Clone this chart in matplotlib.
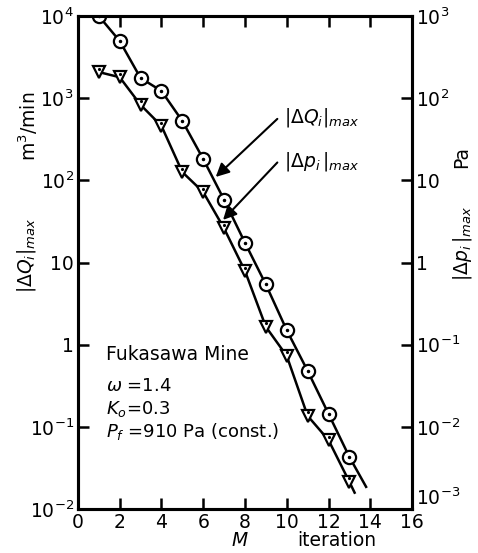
import numpy as np
import matplotlib.pyplot as plt

# iteration number M
m_q = [1, 2, 3, 4, 5, 6, 7, 8, 9, 10, 11, 12, 13]
dq = [10000, 4970, 1760, 1225, 528, 182, 58, 17.4, 5.4, 1.5, 0.48, 0.144, 0.043]
m_p = [1, 2, 3, 4, 5, 6, 7, 8, 9, 10, 11, 12, 13]
dp = [208, 180, 83, 46, 12.6, 7.2, 2.6, 0.79, 0.165, 0.073, 0.0136, 0.0069, 0.00214]
# the lines run on a bit past the last point
q_tail = (13.8, 0.0186)
p_tail = (13.25, 0.00158)

xticks = [0, 2, 4, 6, 8, 10, 12, 14, 16]
left_ticks = [1e4, 1e3, 1e2, 10, 1, 1e-1, 1e-2]
left_labels = [r'$10^4$', r'$10^3$', r'$10^2$', '10', '1', r'$10^{-1}$', r'$10^{-2}$']
right_ticks = [1e3, 1e2, 10, 1, 1e-1, 1e-2, 1e-3]
right_labels = [r'$10^3$', r'$10^2$', '10', '1', r'$10^{-1}$', r'$10^{-2}$', r'$10^{-3}$']

plt.rcParams['font.family'] = 'DejaVu Sans'
plt.rcParams['mathtext.fontset'] = 'dejavusans'

fig = plt.figure(figsize=(4.78, 5.53), dpi=100)
ax = fig.add_axes([0.163, 0.0796, 0.699, 0.8914])
ax2 = ax.twinx()

fs = 13.5
for a in (ax, ax2):
    a.set_yscale('log')
    for s in a.spines.values():
        s.set_linewidth(2.2)
    a.minorticks_off()

ax.set_xlim(0, 16)
ax.set_ylim(1e-2, 1e4)
ax2.set_ylim(1e-3, 1e3)

ax.set_xticks(xticks)
ax.set_xticklabels([str(v) for v in xticks], fontsize=fs)
ax.set_yticks(left_ticks)
ax.set_yticklabels(left_labels, fontsize=fs)
ax.tick_params(axis='both', which='major', direction='in', length=8, width=1.8,
               top=True, pad=3)
ax.tick_params(axis='y', which='minor', left=False)
ax2.set_yticks(right_ticks)
ax2.set_yticklabels(right_labels, fontsize=fs)
ax2.tick_params(axis='y', which='major', direction='in', length=8, width=1.8, pad=3)
ax2.tick_params(axis='y', which='minor', right=False)
# lift the bottom right label clear of the "16"
ax2.get_yticklabels()[-1].set_va('bottom')

# |dQ| with dotted circles
ax.plot(m_q + [q_tail[0]], dq + [q_tail[1]], color='black', lw=1.8, zorder=2)
ax.plot(m_q, dq, 'o', ms=9.5, mfc='white', mec='black', mew=1.6, zorder=3)
ax.plot(m_q, dq, '.', ms=3, color='black', zorder=4)

# |dp| with dotted triangles on the Pa axis
ax2.plot(m_p + [p_tail[0]], dp + [p_tail[1]], color='black', lw=1.8, zorder=2)
ax2.plot(m_p, dp, 'v', ms=9, mfc='white', mec='black', mew=1.6, zorder=3)
ax2.plot(m_p, [v * 1.1 for v in dp], '.', ms=2.5, color='black', zorder=4)

arrow = dict(arrowstyle='-|>', lw=1.5, color='black', mutation_scale=20, shrinkA=0, shrinkB=0)
ax.annotate('', xy=(6.6, 110), xytext=(9.55, 560), arrowprops=arrow)
ax.annotate('', xy=(6.95, 33), xytext=(9.55, 165), arrowprops=arrow)
ax.text(9.85, 590, r'$|\mathit{\Delta Q_i}|_{\mathit{max}}$', fontsize=fs, ha='left', va='center')
ax.text(9.85, 170, r'$|\mathit{\Delta p_i}\,|_{\mathit{max}}$', fontsize=fs, ha='left', va='center')

ax.text(1.35, 0.76, 'Fukasawa Mine', fontsize=fs, ha='left', va='center')
ax.text(1.35, 0.31, r'$\mathit{\omega}$ =1.4', fontsize=13, ha='left', va='center')
ax.text(1.35, 0.165, r'$K_o$=0.3', fontsize=13, ha='left', va='center')
ax.text(1.35, 0.087, r'$P_f$ =910 Pa (const.)', fontsize=13, ha='left', va='center')

fig.text(28 / 478, 1 - 126 / 553, r'm$^3$/min', rotation=90, fontsize=fs, ha='center', va='center')
fig.text(26 / 478, 1 - 255 / 553, r'$|\mathit{\Delta Q_i}|_{\mathit{max}}$', rotation=90,
         fontsize=fs, ha='center', va='center')
fig.text(462 / 478, 1 - 157 / 553, 'Pa', rotation=90, fontsize=fs, ha='center', va='center')
fig.text(463 / 478, 1 - 243 / 553, r'$|\mathit{\Delta p_i}\,|_{\mathit{max}}$', rotation=90,
         fontsize=fs, ha='center', va='center')
fig.text(240 / 478, 1 - 540 / 553, r'$\mathit{M}$', fontsize=fs, ha='center', va='center')
fig.text(337 / 478, 1 - 540 / 553, 'iteration', fontsize=fs, ha='center', va='center')

fig.savefig('out.png', dpi=100)
